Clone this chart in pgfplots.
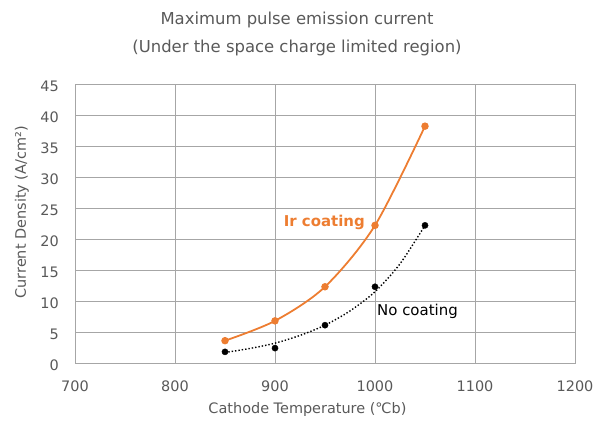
\documentclass[border=0pt]{standalone}
\usepackage{pgfplots}
\pgfplotsset{compat=1.18}
\usepackage{fontspec}
\setmainfont{DejaVu Sans}
\definecolor{txt}{HTML}{595959}
\definecolor{grd}{HTML}{A6A6A6}
\definecolor{org}{HTML}{ED7D31}
\begin{document}
\begin{tikzpicture}[x=1bp,y=1bp]
\path[use as bounding box] (-75,-60) rectangle (520,363);
\begin{axis}[
  at={(0,0)}, anchor=south west,
  scale only axis, width=500bp, height=279bp,
  xmin=700, xmax=1200, ymin=0, ymax=45,
  xtick={700,800,...,1200}, ytick={0,5,...,45},
  grid=major, major grid style={grd, line width=0.8pt},
  axis line style={grd, line width=0.8pt},
  major tick length=0pt,
  tick label style={font=\fontsize{14.5}{16}\selectfont, text=txt},
  /pgf/number format/assume math mode=true,
  /pgf/number format/1000 sep={},
  xticklabel style={anchor=center, yshift=-23bp},
  yticklabel style={anchor=east, inner sep=0pt, xshift=-16bp, yshift=-2bp},
  xlabel={Cathode Temperature (℃b)},
  ylabel={Current Density (A/cm²)},
  label style={font=\fontsize{14.5}{16}\selectfont, text=txt},
  xlabel style={at={(axis description cs:0.465,0)}, anchor=center, yshift=-47bp},
  ylabel style={at={(axis description cs:0,0.54)}, anchor=center, yshift=53bp},
  clip=false,
]
\addplot[org, line width=1.8pt, smooth, tension=0.5, mark=*, mark size=2.8pt, mark options={solid, fill=org, draw=org}]
  coordinates {(850,3.6) (900,6.8) (950,12.3) (1000,22.2) (1050,38.2)};
\addplot[black, line width=1.4pt, dotted, smooth, tension=0.5]
  coordinates {(850,1.7) (875,2.35) (900,3.2) (925,4.45) (950,6.1) (975,8.4) (1000,11.5) (1025,16.0) (1050,22.2)};
\addplot[only marks, mark=*, mark size=3.1pt, mark options={solid, fill=black, draw=black}]
  coordinates {(850,1.8) (900,2.4) (950,6.1) (1000,12.3) (1050,22.2)};
\node[org, font=\fontsize{15}{16}\selectfont\bfseries, anchor=east, inner sep=0pt] at (axis cs:990,22.7) {Ir coating};
\node[black, font=\fontsize{15}{16}\selectfont, anchor=west, inner sep=0pt] at (axis cs:1002,8.4) {No coating};
\end{axis}
\node[txt, font=\fontsize{16.5}{18}\selectfont] at (222,343) {Maximum pulse emission current};
\node[txt, font=\fontsize{16.5}{18}\selectfont] at (222,315) {(Under the space charge limited region)};
\end{tikzpicture}
\end{document}
